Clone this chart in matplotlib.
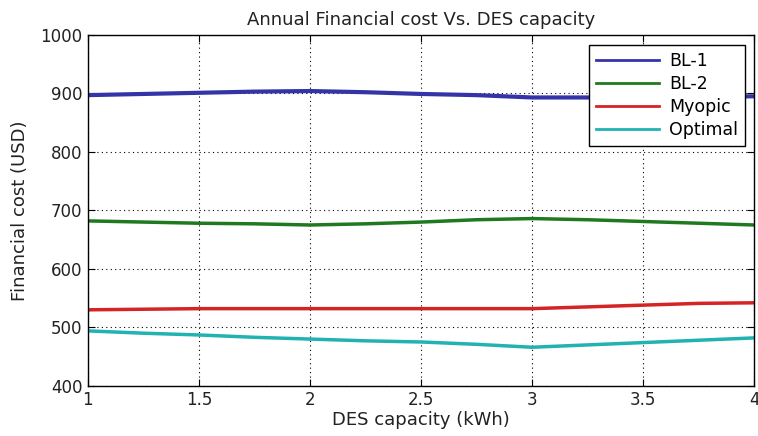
import matplotlib.pyplot as plt

plt.rcParams['font.family'] = ['DejaVu Sans']

capacity = [1.0, 1.25, 1.5, 1.75, 2.0, 2.25, 2.5, 2.75, 3.0, 3.25, 3.5, 3.75, 4.0]
bl1 = [897, 899, 901, 903, 904, 902, 899, 897, 893, 893, 893, 894, 895]
bl2 = [682, 680, 678, 677, 675, 677, 680, 684, 686, 684, 681, 678, 675]
myopic = [530, 531, 532, 532, 532, 532, 532, 532, 532, 535, 538, 541, 542]
optimal = [494, 490, 487, 483, 480, 477, 475, 471, 466, 470, 474, 478, 482]

series = [('BL-1', bl1, '#3434a8', 3.0),
          ('BL-2', bl2, '#1f7a1f', 2.5),
          ('Myopic', myopic, '#d42424', 2.5),
          ('Optimal', optimal, '#22b2b2', 2.5)]

fig = plt.figure(figsize=(7.58, 4.36), dpi=100)
ax = fig.add_axes([0.116, 0.115, 0.879, 0.805])

for name, vals, col, lw in series:
    ax.plot(capacity, vals, color=col, linewidth=lw, label=name)

ax.set_xlim(1, 4)
ax.set_ylim(400, 1000)
ax.set_xticks([1, 1.5, 2, 2.5, 3, 3.5, 4])
ax.set_xticklabels(['1', '1.5', '2', '2.5', '3', '3.5', '4'])
ax.set_yticks(range(400, 1001, 100))
ax.grid(True, color='black', linestyle=(0, (1, 3)), linewidth=0.8)
ax.tick_params(direction='in', top=True, right=True, length=5, labelsize=12, pad=4,
               labelcolor='#222222')
for s in ax.spines.values():
    s.set_linewidth(1.0)

ax.set_title('Annual Financial cost Vs. DES capacity', fontsize=13, color='#222222', pad=7)
ax.set_xlabel('DES capacity (kWh)', fontsize=13, labelpad=1, color='#222222')
ax.set_ylabel('Financial cost (USD)', fontsize=13, labelpad=8, color='#222222')

leg = ax.legend(loc='upper right', fontsize=12.5, fancybox=False, framealpha=1,
                edgecolor='black', handlelength=3.6, borderpad=0.4,
                labelspacing=0.3, handletextpad=0.6, borderaxespad=0,
                bbox_to_anchor=(0.9865, 0.9715))
leg.get_frame().set_linewidth(1.0)
for h in leg.get_lines():
    h.set_linewidth(2.0)

fig.savefig('out.png', dpi=100)
